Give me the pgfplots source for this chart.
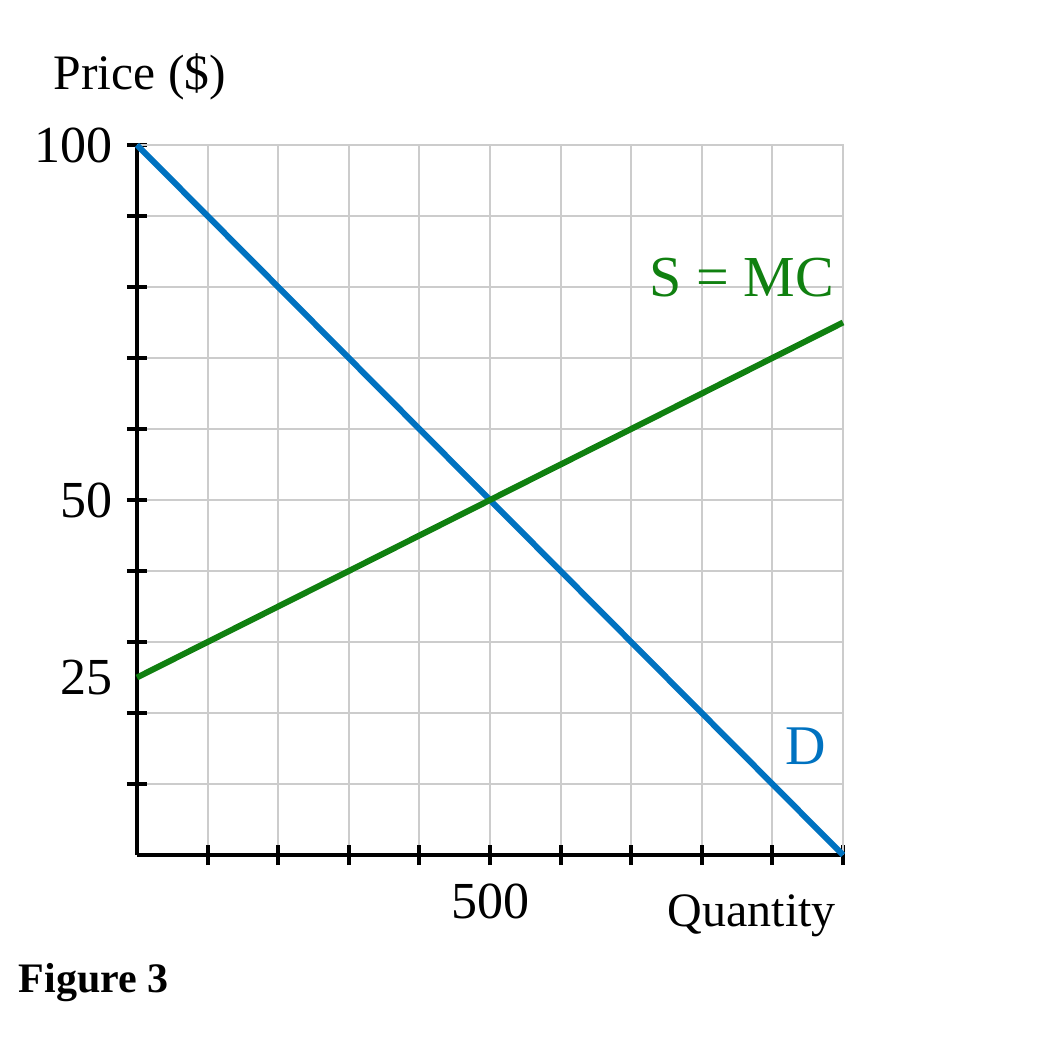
\documentclass[border=0pt]{standalone}
\usepackage{pgfplots}
\pgfplotsset{compat=1.18}
\usepackage{fontspec}
\setmainfont{Liberation Serif}
\definecolor{dblue}{RGB}{0,114,192}
\definecolor{sgreen}{RGB}{16,128,16}
\definecolor{gridgray}{RGB}{204,204,204}
\begin{document}
\begin{tikzpicture}
\useasboundingbox (-34.25pt,-45.75pt) rectangle (227.25pt,213.75pt);
\begin{axis}[
  at={(0,0)}, anchor=south west,
  scale only axis, width=176.5pt, height=177.5pt,
  xmin=0, xmax=1000, ymin=0, ymax=100,
  axis lines=left, axis line style={line width=1pt, -},
  xtick={100,200,...,1000}, xticklabels={,,,,500,,,,,},
  ytick={10,20,...,100}, yticklabels={,,,,50,,,,,100},
  extra y ticks={25}, extra y tick labels={25},
  extra y tick style={major tick length=0pt, grid=none, yticklabel style={xshift=-2.5pt}},
  tick align=center, major tick length=5pt,
  tick style={line width=1pt, black},
  grid=major, grid style={gridgray, line width=0.5pt},
  /pgf/number format/assume math mode=true,
  tick label style={font=\fontsize{13}{15}\selectfont},
  xticklabel style={yshift=-1.3pt},
  clip=false,
]
\draw[gridgray, line width=0.5pt] (axis cs:0,100) -- (axis cs:1000,100) -- (axis cs:1000,0);
\addplot[dblue, line width=1.5pt] coordinates {(0,100) (1000,0)};
\addplot[sgreen, line width=1.5pt] coordinates {(0,25) (1000,75)};
\node[font=\fontsize{12.4}{15}\selectfont] at (axis cs:4,109.6) {Price (\$)};
\node[font=\fontsize{14.5}{17}\selectfont, text=sgreen] at (axis cs:857,81.3) {S = MC};
\node[font=\fontsize{14}{17}\selectfont, text=dblue] at (axis cs:947,15.3) {D};
\node[font=\fontsize{12}{15}\selectfont] at (axis cs:871,-8.5) {Quantity};
\end{axis}
\node[anchor=west, font=\fontsize{10.5}{12}\selectfont\bfseries, inner sep=0pt] at (-29.75pt,-32pt) {Figure 3};
\end{tikzpicture}
\end{document}
